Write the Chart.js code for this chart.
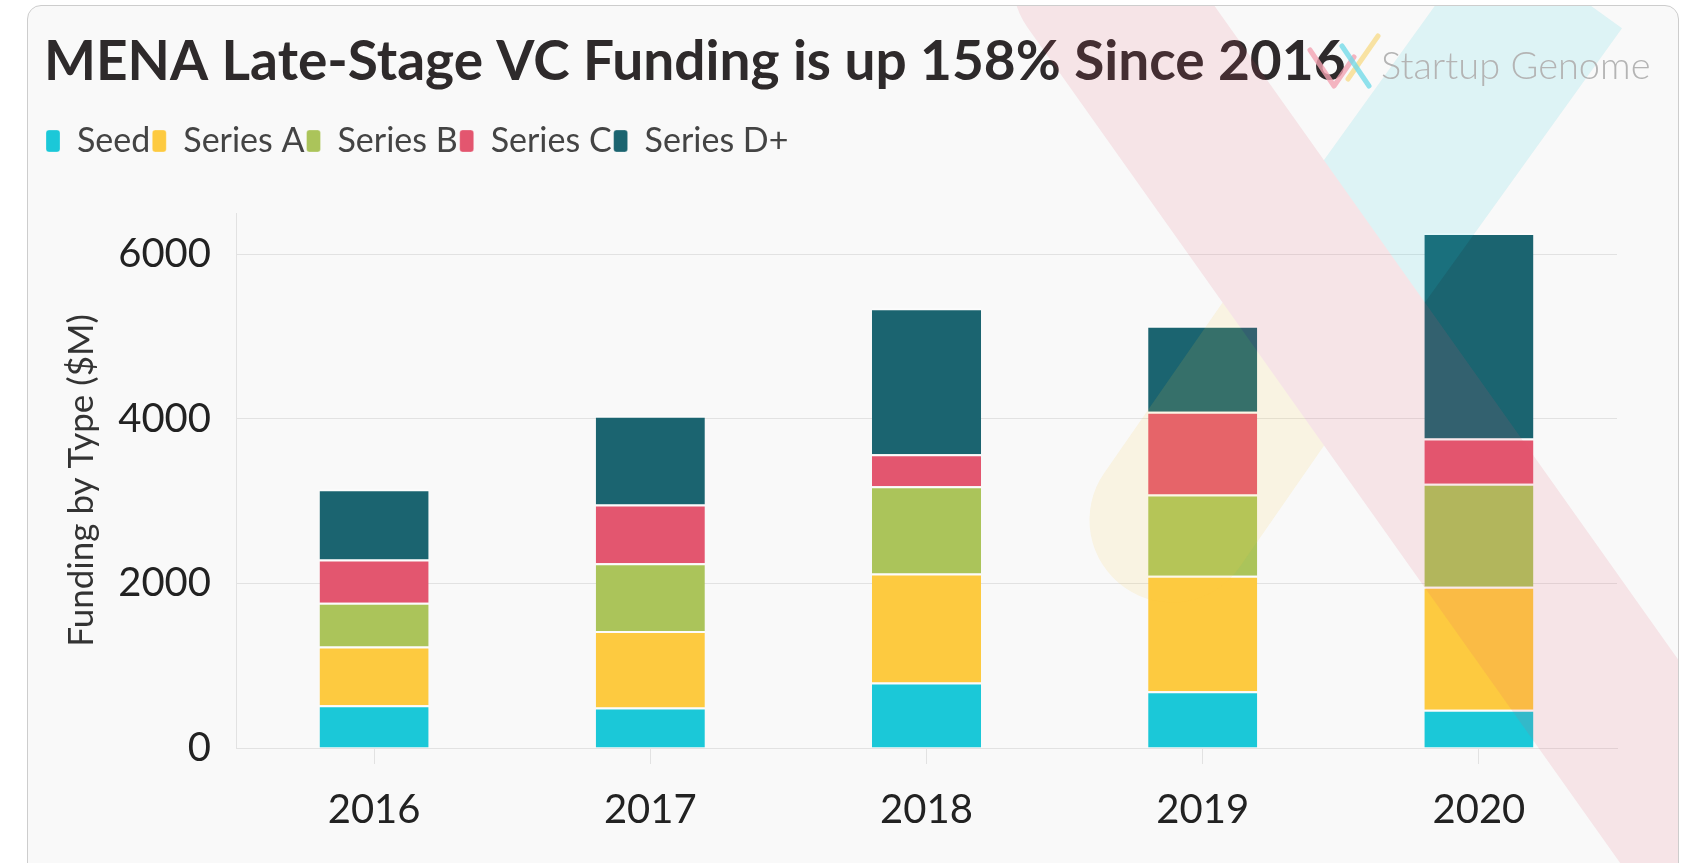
<!DOCTYPE html>
<html>
<head>
<meta charset="utf-8">
<script src="https://cdn.jsdelivr.net/npm/chart.js@4.4.1/dist/chart.umd.min.js"></script>
<style>
  html, body { margin: 0; padding: 0; background: #fff; }
  body { width: 1698px; height: 863px; position: relative; overflow: hidden; }
  .card { position: absolute; left: 27px; top: 5px; width: 1652px; height: 900px; box-sizing: border-box; border: 1px solid #cdcdcd; border-radius: 14px; background: #f9f9f9; }
  #chart { position: absolute; left: 0; top: 0; }
</style>
</head>
<body>
<div class="card"></div>
<canvas id="chart" width="1698" height="863"></canvas>
<script>
const years = ["2016", "2017", "2018", "2019", "2020"]
const seed = [520, 492, 795, 690, 466]
const seriesA = [712, 930, 1325, 1404, 1494]
const seriesB = [532, 822, 1060, 986, 1250]
const seriesC = [525, 715, 388, 1005, 551]
const seriesD = [856, 1078, 1776, 1046, 2496]
const yTicks = [0, 2000, 4000, 6000]

const font = "Lato, 'Open Sans', sans-serif"
const gridColor = "#e2e2e2"

// pale logo stripes behind/over the plot, like the original watermark
const watermark = {
    id: "watermark",
    afterDatasetsDraw(chart) {
        const layer = document.createElement("canvas")
        layer.width = chart.width
        layer.height = chart.height
        const g = layer.getContext("2d")

        g.lineWidth = 165
        g.lineCap = "butt"
        g.strokeStyle = "#1bc8d8"
        g.beginPath(); g.moveTo(1555, -20); g.lineTo(1315, 314); g.stroke()
        g.lineCap = "round"
        g.strokeStyle = "#fdca40"
        g.beginPath(); g.moveTo(1315, 314); g.lineTo(1172, 520); g.stroke()

        g.lineWidth = 165
        g.lineCap = "round"
        g.strokeStyle = "#e3566f"
        g.beginPath(); g.moveTo(1095, -20); g.lineTo(1705, 840); g.stroke()

        const ctx = chart.ctx
        ctx.save()
        ctx.beginPath()
        ctx.roundRect(28, 6, 1650, 900, 13)
        ctx.clip()
        ctx.globalAlpha = 0.12
        ctx.drawImage(layer, 0, 0)
        ctx.restore()
    },
    afterDraw(chart) {
        const ctx = chart.ctx
        ctx.save()
        ctx.lineCap = "round"
        ctx.lineJoin = "round"
        ctx.lineWidth = 5
        ctx.globalAlpha = 0.8
        ctx.strokeStyle = "#f2a3b1"
        ctx.beginPath(); ctx.moveTo(1310, 50); ctx.lineTo(1334, 86); ctx.lineTo(1354, 57); ctx.stroke()
        ctx.strokeStyle = "#f8dc8c"
        ctx.beginPath(); ctx.moveTo(1378, 36); ctx.lineTo(1348, 79); ctx.stroke()
        ctx.strokeStyle = "#74dbe8"
        ctx.beginPath(); ctx.moveTo(1342, 46); ctx.lineTo(1369, 86); ctx.stroke()
        ctx.globalAlpha = 1
        ctx.fillStyle = "#b4b4b4"
        ctx.font = "300 38px " + font
        ctx.textBaseline = "middle"
        ctx.fillText("Startup Genome", 1381, 67)
        ctx.restore()
    }
}

// extra room between legend and plot
const legendGap = {
    id: "legendGap",
    beforeInit(chart) {
        const fit = chart.legend.fit
        chart.legend.fit = function () {
            fit.bind(chart.legend)()
            this.height += 45
        }
    }
}

function makeSet(label, data, color) {
    return {
        label: label,
        data: data,
        backgroundColor: color,
        borderColor: "rgba(255,255,255,0.55)",
        borderWidth: { top: 2 },
        borderSkipped: "start",
        barPercentage: 0.395,
        categoryPercentage: 1
    }
}

const ctx = document.getElementById("chart")

new Chart(ctx, {
    type: "bar",
    data: {
        labels: years,
        datasets: [
            makeSet("Seed", seed, "#1bc8d8"),
            makeSet("Series A", seriesA, "#fdca40"),
            makeSet("Series B", seriesB, "#abc45a"),
            makeSet("Series C", seriesC, "#e3566f"),
            makeSet("Series D+", seriesD, "#1b6470")
        ]
    },
    plugins: [watermark, legendGap],
    options: {
        responsive: false,
        animation: false,
        devicePixelRatio: 1,
        layout: { padding: { left: 44, right: 81, top: 10, bottom: 7 } },
        plugins: {
            title: {
                display: true,
                text: "MENA Late-Stage VC Funding is up 158% Since 2016",
                align: "start",
                color: "#2e2a2b",
                font: { family: font, size: 55, weight: "bold", lineHeight: 1.2 },
                padding: { top: 19, bottom: 27 }
            },
            legend: {
                display: true,
                position: "top",
                align: "start",
                labels: {
                    color: "#444",
                    font: { family: font, size: 34 },
                    boxWidth: 14,
                    boxHeight: 22,
                    useBorderRadius: true,
                    borderRadius: 3,
                    padding: 2
                }
            },
            tooltip: { enabled: false }
        },
        scales: {
            x: {
                stacked: true,
                offset: true,
                grid: {
                    offset: false,
                    drawOnChartArea: false,
                    drawTicks: true,
                    tickLength: 16,
                    color: gridColor
                },
                border: { display: true, color: gridColor },
                ticks: {
                    color: "#222",
                    font: { family: font, size: 40 },
                    padding: 22
                }
            },
            y: {
                stacked: true,
                min: 0,
                max: 6500,
                afterBuildTicks: (s) => { s.ticks = yTicks.map((v) => ({ value: v })) },
                afterFit: (s) => { s.width = 192 },
                grid: { color: gridColor, drawTicks: false },
                border: { display: true, color: gridColor },
                ticks: {
                    color: "#222",
                    font: { family: font, size: 40 },
                    padding: 25,
                    callback: (v) => String(v)
                },
                title: {
                    display: true,
                    text: "Funding by Type ($M)",
                    color: "#333",
                    font: { family: font, size: 35 },
                    padding: { top: 17, bottom: 0 }
                }
            }
        }
    }
})
</script>
</body>
</html>
